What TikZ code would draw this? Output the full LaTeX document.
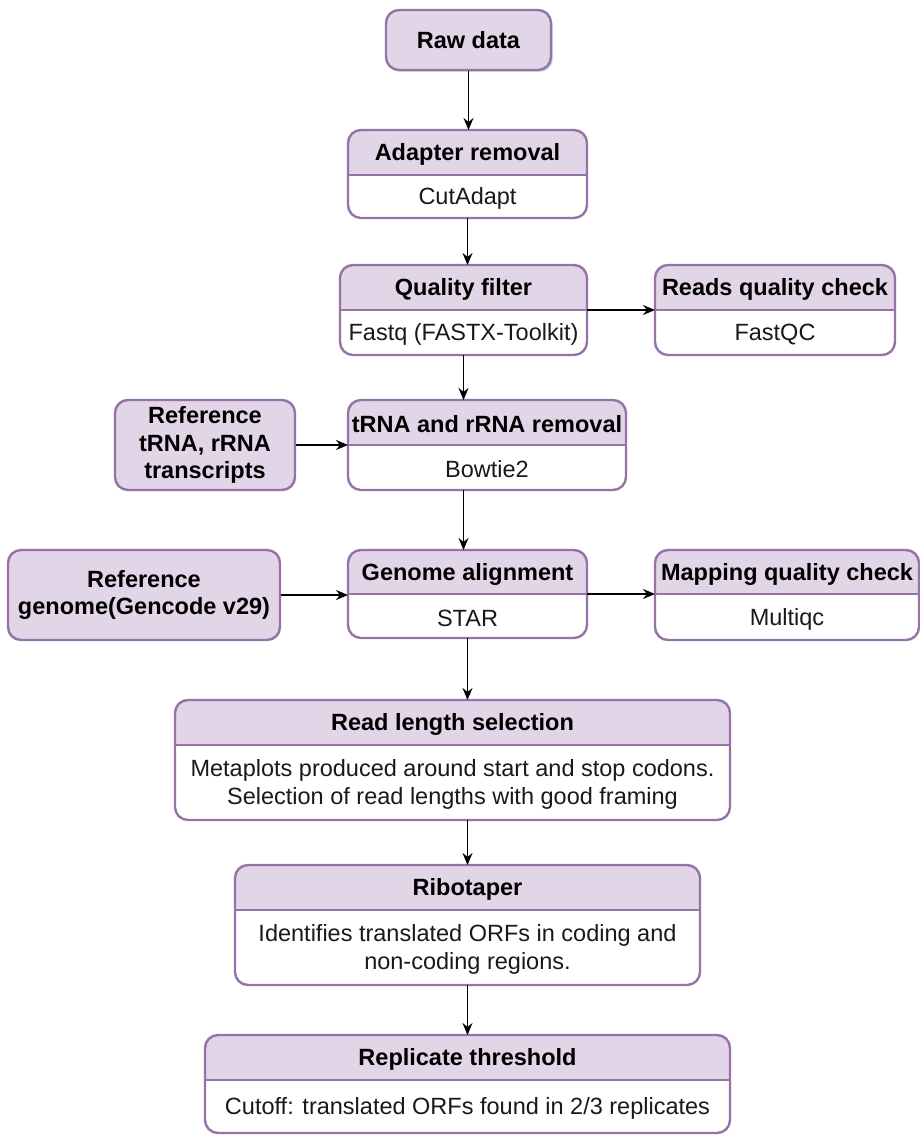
\documentclass[tikz,border=0pt]{standalone}
\usepackage{fontspec}
\setmainfont{Liberation Sans}
\usetikzlibrary{arrows.meta,fit,shadows}
\definecolor{head}{HTML}{E1D5E7}
\definecolor{bord}{HTML}{9673A6}
\tikzset{
  boxline/.style={draw=bord, line width=2.4pt, rounded corners=13pt},
  titletext/.style={font=\fontsize{23.5}{27}\selectfont\bfseries, text=black},
  bodytext/.style={font=\fontsize{23.5}{28}\selectfont, align=center, text=black!90},
  arr/.style={-{Stealth[length=12pt,width=10pt]}, line width=1.5pt},
  framebox/.style={inner sep=0pt, outer sep=0pt},
  simplebox/.style={draw=bord, fill=head, line width=2.4pt, rounded corners=13pt,
    inner sep=0pt, align=center, font=\fontsize{23.5}{27.5}\selectfont\bfseries, text=black},
}
% name, x1, y1, x2, y2, ysplit, title, body
\newcommand\twobox[8]{%
  \node[framebox, fit={(#2,#3) (#4,#5)}] (#1) {};
  \fill[white, rounded corners=13pt] (#2,#3) rectangle (#4,#5);
  \begin{scope}
    \clip[rounded corners=13pt] (#2,#3) rectangle (#4,#5);
    \fill[head] (#2,#3) rectangle (#4,#6);
  \end{scope}
  \draw[draw=bord, line width=2.4pt] (#2,#6) -- (#4,#6);
  \draw[boxline] (#2,#3) rectangle (#4,#5);
  \node[titletext] (#1-t) at ({(#2+#4)/2},{(#3+#6)/2+2}) {#7};
  \node[bodytext] (#1-b) at ({(#2+#4)/2},{(#6+#5)/2+2}) {#8};
}
\begin{document}
\begin{tikzpicture}[x=1pt,y=-1pt]
\useasboundingbox (0,0) rectangle (920,1135);

\node[simplebox, drop shadow={shadow xshift=2pt, shadow yshift=-2pt, opacity=0.3},
  minimum width=165pt, minimum height=60pt] (raw) at (468.5,40) {Raw data};

\twobox{adapt}{348}{130}{587}{218}{175}{Adapter removal}{CutAdapt}
\twobox{qf}{340}{265}{587}{355}{310}{Quality filter}{Fastq (FASTX-Toolkit)}
\twobox{reads}{655}{265}{895}{355}{310}{Reads quality check}{FastQC}
\twobox{trna}{348}{400}{626}{490}{445}{tRNA and rRNA removal}{Bowtie2}
\twobox{genome}{348}{550}{587}{638}{594}{Genome alignment}{STAR}
\twobox{mapq}{655}{550}{919}{640}{594}{Mapping quality check}{Multiqc}
\twobox{readlen}{175}{700}{730}{820}{745}{Read length selection}{Metaplots produced around start and stop codons.\\Selection of read lengths with good framing}
\twobox{ribo}{235}{865}{700}{985}{910}{Ribotaper}{Identifies translated ORFs in coding and\\non-coding regions.}
\twobox{repl}{205}{1035}{730}{1133}{1080}{Replicate threshold}{Cutoff: translated ORFs found in 2/3 replicates}

\node[simplebox, minimum width=180pt, minimum height=90pt] (reftrna) at (205,445) {Reference\\tRNA, rRNA\\transcripts};
\node[simplebox, minimum width=272pt, minimum height=90pt] (refgen) at (144,595) {Reference\\genome(Gencode v29)};

\draw[arr] (raw.south) -- (raw.south |- adapt.north);
\draw[arr] (adapt.south) -- (adapt.south |- qf.north);
\draw[arr] (qf.east) -- (reads.west);
\draw[arr] (qf.south) -- (qf.south |- trna.north);
\draw[arr] (reftrna.east) -- (reftrna.east -| trna.west);
\draw[arr] (qf.south |- trna.south) -- (qf.south |- genome.north);
\draw[arr] (refgen.east) -- (refgen.east -| genome.west);
\draw[arr] (genome.east) -- (genome.east -| mapq.west);
\draw[arr] (genome.south) -- (genome.south |- readlen.north);
\draw[arr] (genome.south |- readlen.south) -- (genome.south |- ribo.north);
\draw[arr] (ribo.south) -- (ribo.south |- repl.north);
\end{tikzpicture}
\end{document}
